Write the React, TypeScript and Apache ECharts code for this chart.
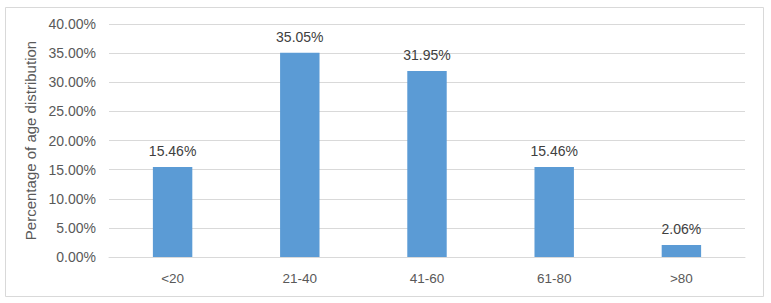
import React, { useEffect, useRef } from "react";
import * as echarts from "echarts";

const categories = ["<20", "21-40", "41-60", "61-80", ">80"];
const values = [15.46, 35.05, 31.95, 15.46, 2.06];
const yTicks = { min: 0, max: 40, interval: 5 };
const yAxisName = "Percentage of age distribution";

export default function App() {
  const ref = useRef<HTMLDivElement>(null);
  useEffect(() => {
    const chart = echarts.init(ref.current!, null, { renderer: "svg" });
    const font = "Liberation Sans, Arial, sans-serif";
    chart.setOption({
      animation: false,
      backgroundColor: "#ffffff",
      graphic: [
        {
          type: "rect",
          shape: { x: 5.5, y: 7.5, width: 758, height: 289 },
          style: { fill: "none", stroke: "#d9d9d9", lineWidth: 1 },
          silent: true,
        },
      ],
      grid: { left: 109, right: 26, top: 24, bottom: 46 },
      xAxis: {
        type: "category",
        data: categories,
        axisLine: { show: true, lineStyle: { color: "#d9d9d9", width: 1 } },
        axisTick: { show: false },
        axisLabel: { color: "#595959", fontSize: 13.5, fontFamily: font, margin: 14 },
      },
      yAxis: {
        type: "value",
        min: yTicks.min,
        max: yTicks.max,
        interval: yTicks.interval,
        name: yAxisName,
        nameLocation: "middle",
        nameGap: 63,
        nameTextStyle: { color: "#595959", fontSize: 15, fontFamily: font },
        axisLine: { show: false },
        axisTick: { show: false },
        axisLabel: {
          color: "#595959",
          fontSize: 14,
          fontFamily: font,
          margin: 13,
          formatter: (v: number) => v.toFixed(2) + "%",
        },
        splitLine: { lineStyle: { color: "#d9d9d9", width: 1 } },
      },
      series: [
        {
          type: "bar",
          data: values,
          barWidth: "31%",
          itemStyle: { color: "#5b9bd5" },
          label: {
            show: true,
            position: "top",
            distance: 9,
            color: "#404040",
            fontSize: 14,
            fontFamily: font,
            formatter: (p: any) => p.value.toFixed(2) + "%",
          },
        },
      ],
    });
    return () => chart.dispose();
  }, []);
  return (
    <div
      ref={ref}
      style={{ position: "fixed", left: 0, top: 0, width: 771, height: 303 }}
    />
  );
}
